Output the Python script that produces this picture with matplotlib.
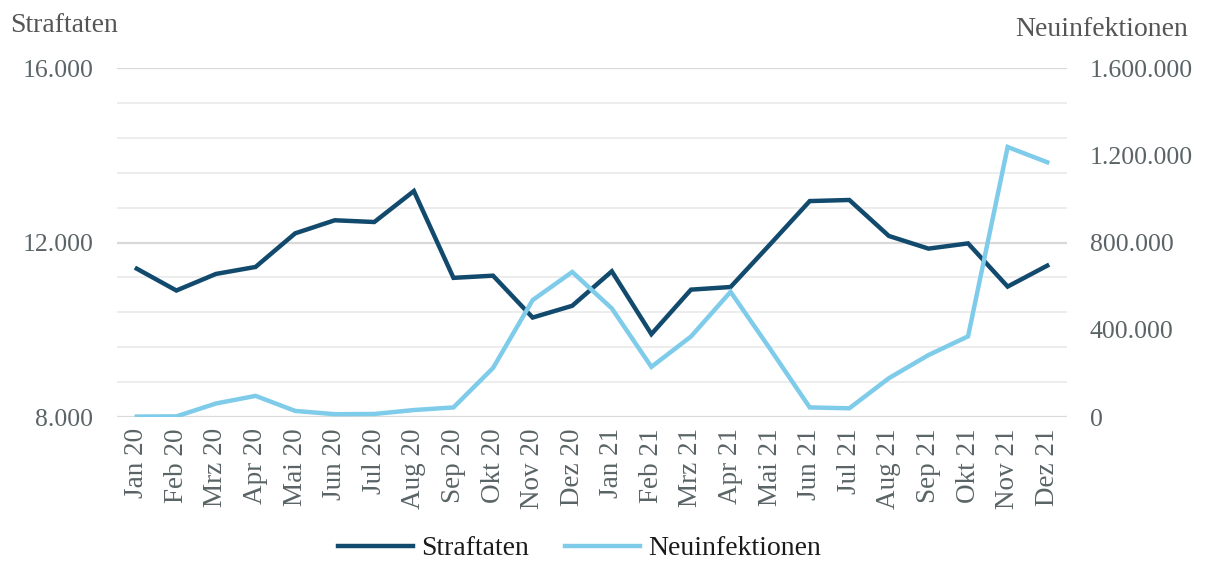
import matplotlib
matplotlib.use("Agg")
import matplotlib.pyplot as plt
from matplotlib.ticker import FixedLocator, FuncFormatter

months = ["Jan 20", "Feb 20", "Mrz 20", "Apr 20", "Mai 20", "Jun 20", "Jul 20",
          "Aug 20", "Sep 20", "Okt 20", "Nov 20", "Dez 20",
          "Jan 21", "Feb 21", "Mrz 21", "Apr 21", "Mai 21", "Jun 21", "Jul 21",
          "Aug 21", "Sep 21", "Okt 21", "Nov 21", "Dez 21"]

straftaten = [11400, 10900, 11280, 11440, 12210, 12510, 12470, 13180, 11190,
              11240, 10280, 10550, 11340, 9900, 10920, 10980, 11960, 12950,
              12975, 12150, 11860, 11980, 10990, 11470]

neuinfektionen = [2000, 3000, 62000, 97000, 28000, 13000, 14000, 32000, 44000,
                  225000, 536000, 665000, 498000, 230000, 369000, 574000,
                  312000, 44000, 40000, 178000, 284000, 370000, 1238000,
                  1168000]

left_ticks = [8000, 12000, 16000]
right_ticks = [0, 400000, 800000, 1200000, 1600000]

DARK = "#124a6e"
LIGHT = "#7fcbea"
TICK_COLOR = "#5a6466"
FONT = "Liberation Serif"

plt.rcParams["font.family"] = [FONT, "DejaVu Serif"]


def de_thousands(v, _pos=None):
    return f"{int(round(v)):,}".replace(",", ".")


fig = plt.figure(figsize=(12.05, 5.64), dpi=100)
ax = fig.add_axes([0.0971, 0.2606, 0.7884, 0.6188])
ax2 = ax.twinx()

x = list(range(len(months)))

# Grid: light lines every 800, slightly darker at the labelled values
for v in range(8000, 16001, 800):
    major = v in left_ticks
    ax.axhline(v, color="#d9d9d9" if major else "#ececec",
               lw=1.6 if major else 1.3, zorder=0)

l1, = ax.plot(x, straftaten, color=DARK, lw=3.2, solid_joinstyle="miter",
              label="Straftaten", zorder=3)
l2, = ax2.plot(x, neuinfektionen, color=LIGHT, lw=3.2,
               solid_joinstyle="miter", label="Neuinfektionen", zorder=3)

ax.set_xlim(-0.5, len(months) - 0.5)
ax.set_ylim(8000, 16000)
ax2.set_ylim(0, 1600000)

ax.yaxis.set_major_locator(FixedLocator(left_ticks))
ax.yaxis.set_major_formatter(FuncFormatter(de_thousands))
ax2.yaxis.set_major_locator(FixedLocator(right_ticks))
ax2.yaxis.set_major_formatter(FuncFormatter(de_thousands))

ax.set_xticks(x)
ax.set_xticklabels(months, rotation=90)

for a in (ax, ax2):
    for s in a.spines.values():
        s.set_visible(False)
    a.tick_params(length=0, colors=TICK_COLOR, labelsize=18.5)

ax.tick_params(axis="x", labelsize=19.5, pad=8)
ax.tick_params(axis="y", pad=17)
ax2.tick_params(axis="y", pad=16.5)

fig.text(0.008, 0.955, "Straftaten", fontsize=20, color="#555555",
         ha="left", va="center")
fig.text(0.986, 0.947, "Neuinfektionen", fontsize=20, color="#555555",
         ha="right", va="center")

fig.legend(handles=[l1, l2], loc="center", bbox_to_anchor=(0.481, 0.027),
           ncol=2, frameon=False, fontsize=20, handlelength=2.7,
           handletextpad=0.3, columnspacing=1.3, labelcolor="#1a1a1a")

fig.savefig("out.png", dpi=100)
